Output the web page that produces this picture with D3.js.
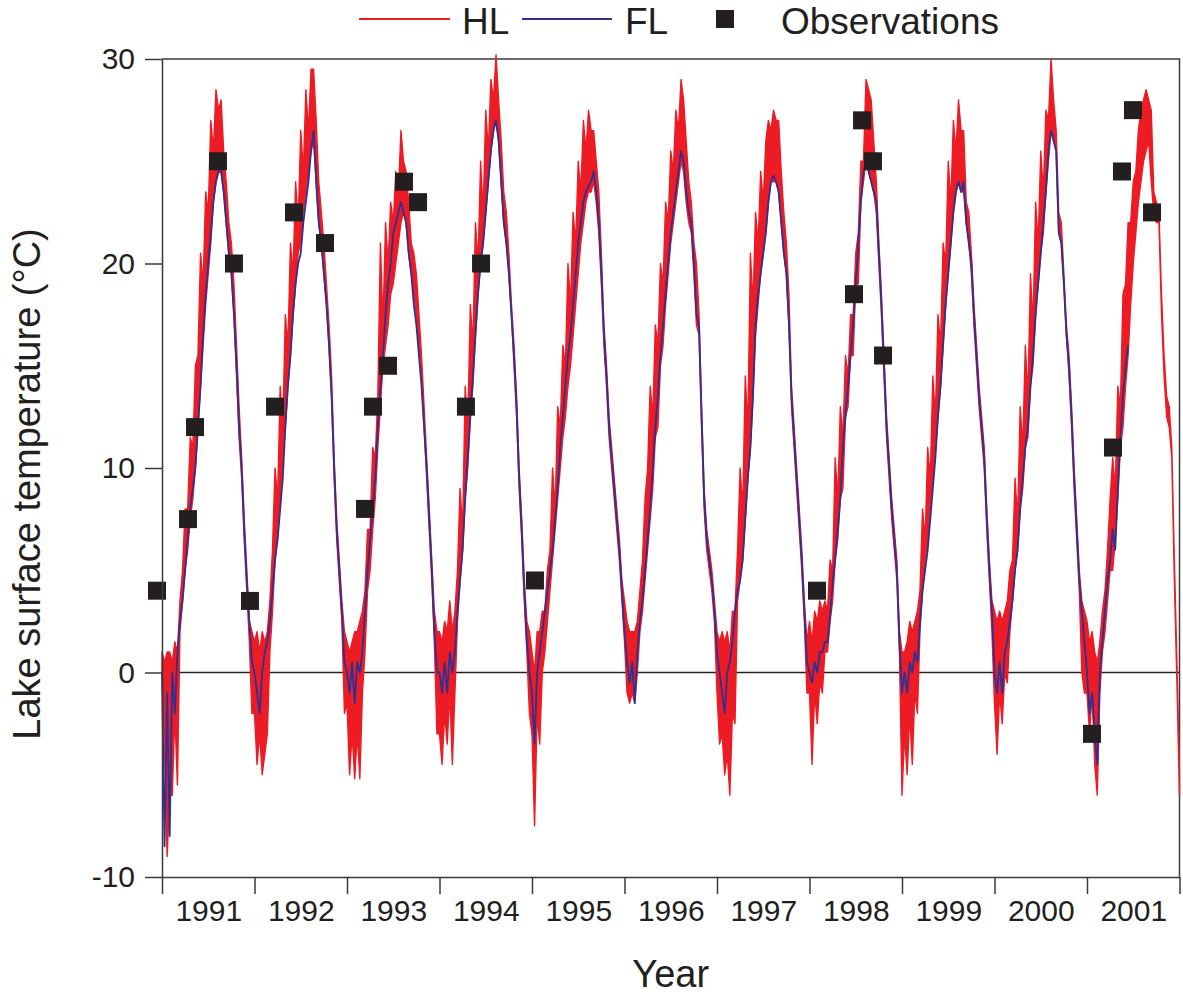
<!DOCTYPE html>
<html lang="en">
<head>
<meta charset="utf-8">
<title>Lake surface temperature</title>
<script src="https://cdnjs.cloudflare.com/ajax/libs/d3/7.8.5/d3.min.js"></script>
<style>
  body { margin: 0; background: #fff; }
  svg text { font-family: "Liberation Sans", Arial, Helvetica, sans-serif; fill: #231f20; }
</style>
</head>
<body>
<div id="chart"></div>
<script>
// --- data -------------------------------------------------------------
const samplesPerYear = 36;          // one value about every 10 days
const years = [1991, 1992, 1993, 1994, 1995, 1996, 1997, 1998, 1999, 2000, 2001];
const yTicks = [-10, 0, 10, 20, 30];

// HL model (°C): the daily series is very noisy, so it is kept as the
// upper and lower edge of its scatter, one row per year
const hlHigh = [
  [1, 0.5, 1, 1, 0.5, 1.5, 1, 3.5, 5, 8, 8, 11.5, 11, 15, 15.5, 20.5, 19, 23.5, 22.5, 27, 25.5, 28.5, 27.5, 28, 25.5, 24, 22, 21, 19, 16, 13, 10.5, 7.5, 5, 2.5, 2],
  [1.5, 2, 1, 2, 1.5, 2, 3.5, 6, 10, 8.5, 14, 12, 17.5, 16, 21, 19.5, 24, 22, 26.5, 24.5, 28.5, 26.5, 29.5, 29.5, 27, 24, 22.5, 21, 19, 17, 14.5, 10.5, 7.5, 5.5, 3.5, 2],
  [1.5, 1, 1.5, 2, 2, 2.5, 3, 4, 7, 7, 11, 10.5, 13.5, 21, 17, 22, 20, 23, 22, 24.5, 23.5, 26.5, 25, 24.5, 23, 21, 20.5, 19.5, 17.5, 15.5, 13, 10.5, 8, 5.5, 3, 2],
  [2, 1.5, 2.5, 2, 3.5, 2, 3, 5, 9, 7, 14, 12, 18, 16, 22, 20, 25, 22.5, 27.5, 25.5, 29, 28, 30.2, 28, 26, 23.5, 22.5, 20.5, 18, 16, 13.5, 10, 7.5, 4.5, 2.5, 2],
  [1, 0, 2, 2, 3, 3, 5, 6, 10, 8, 13, 12, 16, 15, 20, 18, 22.5, 21, 25, 23.5, 27, 25.5, 27.5, 26.5, 26.5, 25, 23.5, 20.5, 17, 15, 12.5, 11, 9.5, 8, 6.5, 4.5],
  [3.5, 2.5, 2, 2, 2, 2.5, 4, 5.5, 8.5, 10, 14, 12.5, 17, 16, 20, 19, 23, 22, 25.5, 24.5, 27.5, 26.5, 29, 28, 26, 24, 23, 21, 20, 17.5, 13, 9, 7, 6, 5, 3.5],
  [2, 1.5, 2, 1.5, 2, 1, 3, 3, 6, 10, 8, 14.5, 12, 20.5, 18, 22.5, 21, 24.5, 23, 26, 27, 26.5, 27.5, 27, 27, 24.5, 22.5, 21, 18.5, 14, 12, 10, 8, 6, 3.5, 1.5],
  [2.5, 1.5, 3, 2.5, 3.5, 3, 3.5, 3, 5.5, 5, 10.5, 8.5, 13, 11.5, 15.5, 14.5, 17.5, 17.5, 20.5, 21.5, 25, 25, 29, 28.5, 28, 26, 24, 21, 18.5, 15.5, 12.5, 10.5, 8.5, 7, 5.5, 2],
  [1, 1, 1.5, 2.5, 2, 2.5, 3, 4, 8, 6.5, 11, 9.5, 14.5, 12.5, 17.5, 16, 21, 20, 25, 23, 27, 25.5, 28, 26.5, 26.5, 23, 22.5, 20.5, 18, 16, 14, 12.5, 11, 8, 5.5, 3.5],
  [3, 2.5, 3, 2.5, 3, 3.5, 5, 5.5, 9.5, 7.5, 13, 11, 16, 13.5, 19.5, 17, 23, 21, 25.5, 23.5, 27.5, 27, 30, 28, 26.5, 22.5, 22, 19.5, 17, 15.5, 13, 10, 7.5, 5, 3.5, 3],
  [2.5, 1.5, 2, 1, 0.5, 1.5, 3, 4, 6, 8.5, 10.5, 9, 14, 13, 18.5, 19, 22, 22, 24, 24.5, 26.5, 27.5, 28, 28.5, 28, 27.5, 23.5, 23, 22.5, 18.5, 15.5, 13.5, 13, 11, 5.5, 0.5, -5]
];
const hlLow = [
  [0, -4, -9, -6, -6, -2, -5.5, 2, 3.5, 5, 6, 7.5, 8.5, 10, 12, 14, 16, 18, 19.5, 21, 23, 24, 24.5, 24.5, 23.5, 22, 20.5, 19.5, 17.5, 14.5, 11.5, 9.5, 6.5, 4, 1.5, -2],
  [-2, -4.5, -3, -5, -4, -3, 1, 3, 5.5, 7, 8.5, 10.5, 12, 14, 15.5, 17.5, 19, 20.5, 21, 22.5, 23.5, 24.5, 25.5, 26, 24, 22, 21, 19.5, 18, 16, 13.5, 9.5, 6.5, 4.5, 2.5, -2],
  [-1.5, -5, -3, -5.2, -3, -5.2, -1, 1, 4, 5, 7, 8.5, 11, 13, 15, 16, 17, 18.5, 19, 20, 21, 22, 22.5, 22, 20.5, 19.5, 18.5, 17.5, 16, 14.5, 12, 9.5, 7, 4.5, 1.5, -3],
  [-3, -4.5, -2, -3.5, -1, -4.5, -1, 2.5, 4.5, 6, 8.5, 10, 12.5, 14, 16.5, 18.5, 20, 21, 22.5, 24, 25.5, 26.5, 27, 26, 24, 22, 21, 19.5, 17.5, 15, 12.5, 9, 6.5, 3.5, 1, -2],
  [-3, -7.5, -2, -3.5, 0, 1, 2.5, 4, 5.5, 7, 8.5, 10, 11.5, 12.5, 14, 15, 16.5, 18, 19.5, 21, 22, 23, 23.5, 23.5, 24, 23, 21.5, 19, 16, 14, 11.5, 10, 8.5, 7, 5.5, 3.5],
  [1.5, -1, -1.5, -1, -1.5, 0, 2, 3, 4.5, 6, 7.5, 9, 11.5, 12, 15, 16, 18, 19.5, 21, 22, 23, 24, 25, 24.5, 23, 22, 21.5, 19.5, 17, 16.5, 12, 8, 6, 5, 4, 2.5],
  [-1, -3.5, -3, -5, -4, -6, -2, -2.5, 3.5, 4.5, 5.5, 7.5, 9.5, 11, 13.5, 16.5, 18, 19.5, 20.5, 21.5, 23, 24, 24, 24, 23.5, 22, 20.5, 19.5, 17, 13, 11, 9, 7, 5, 2.5, -1],
  [-1, -4.5, -1, -2.5, -0.5, -1, 1, 1, 2.5, 3.5, 5.5, 6.5, 8.5, 9, 12.5, 13, 15.5, 15.5, 19, 19, 23, 24, 25, 24.5, 24, 23.5, 22.5, 20, 17.5, 14.5, 11.5, 9.5, 7.5, 6, 4.5, 1],
  [-6, -3, -5, -2, -4.5, -1, -2, 2, 4, 5.5, 6.5, 8, 9.5, 11, 12.5, 14, 16, 18, 19.5, 21, 22.5, 23.5, 24, 23.5, 23.5, 22, 21, 19.5, 17, 15, 13, 11.5, 10, 7, 4.5, 2],
  [-1.5, -4, -1, -2.5, 0, -0.5, 2, 3.5, 5, 6, 8, 9, 11, 11.5, 14, 15, 17.5, 19, 20.5, 21.5, 23.5, 25, 26.5, 26, 25.5, 21.5, 21, 19, 16.5, 14.5, 12, 9, 6.5, 4, 0, -1],
  [-1, -3, -1, -4.5, -6, -1, 1, 2, 3.5, 5, 5, 6.5, 8.5, 11, 12, 14, 15.5, 18, 20, 21.5, 23, 24, 25, 25.5, 26, 24, 22.5, 22, 22, 17.5, 14.5, 12.5, 12, 10.5, 4.5, -0.5, -6]
];

// FL model (°C), same time steps, ends mid 2001
const flTemp = [
  [0, -8.5, -1, -8, 0, -2, 1, 2.5, 3.5, 5, 6.5, 8, 9, 10, 12, 14, 16.5, 18.5, 20, 21.5, 23, 24, 24.5, 24.5, 23.5, 22, 20.5, 19.5, 17.5, 15, 12, 10, 7, 4.5, 2.5, 0.5],
  [0, -1, -2, 0, 1, 1.5, 2.5, 4, 5.5, 6.5, 8, 9.5, 12, 14, 15.5, 17.5, 19, 20, 20.5, 22, 23, 24, 25.5, 26.5, 24, 22, 21, 19.5, 18, 16, 13.5, 10, 7, 5, 3, 0.5],
  [0, -1, 0.5, -1.5, 0.5, 0, 1, 3, 5, 6.5, 8, 9.5, 12, 14, 15.5, 17.5, 19, 20, 21.5, 22, 22.5, 23, 22.5, 22, 20.5, 19.5, 18, 17, 15.5, 14, 12, 10, 7.5, 5, 2, 0],
  [0, -1, 0.5, -1, 1, 0, 1, 3, 4.5, 6, 8.5, 10.5, 12.5, 14.5, 16.5, 18.5, 20, 21, 22.5, 24, 25.5, 26.5, 27, 26, 24, 22, 21, 19.5, 17.5, 15.5, 13, 9.5, 7, 4, 1.5, 0],
  [-1, -3.5, 0, 1, 2, 3, 4, 5, 6, 7.5, 9, 11, 12.5, 14, 15.5, 16.5, 18, 19.5, 21, 22, 23, 23.5, 23.8, 24, 24.5, 23.5, 22, 19.5, 16.5, 14.5, 12, 10.5, 9, 7.5, 6, 4],
  [2, 0.5, -0.5, 0.5, -1.5, 1, 2.5, 3.5, 5, 6.5, 8, 10, 12, 13.5, 15.5, 17, 18.5, 20, 21.5, 22.5, 23.5, 24.5, 25.5, 25, 23.5, 22.5, 22, 20, 17.5, 17, 12.5, 8.5, 6.5, 5.5, 4.5, 3],
  [1, 0, -1, -2, 0, 0.5, 1.5, 3, 4, 4.5, 5.5, 7.5, 9.5, 11, 13.5, 17, 18.5, 19.5, 20.5, 21.5, 23, 24, 24.3, 24, 23.5, 22, 20.5, 19.5, 17, 13.5, 11.5, 9.5, 7.5, 5.5, 3, 0.5],
  [0, -0.5, 0.5, 0, 1, 1, 1.5, 1.5, 2.7, 4.4, 5.5, 7, 8.5, 11, 12.5, 14, 15.5, 17, 19, 21, 23, 24.5, 25, 24.5, 24, 23.5, 23, 20.5, 18, 15, 12, 10, 8, 6.5, 5, 1.5],
  [-1, 0, -1, 0.5, 0, 1, 0.5, 2.5, 4, 5, 6, 7.5, 9, 10.5, 12.5, 14, 16, 18, 19.5, 21, 22.5, 23.5, 24, 23.5, 24, 22, 21, 20, 17.5, 15.5, 13.5, 12, 10.5, 7.5, 5, 3],
  [0, -1, 0.5, -1, 1, 1.5, 2.5, 3.5, 5, 6, 8, 9.5, 11, 12, 14, 15.5, 17.5, 19, 20.5, 22, 23.5, 25.5, 26.5, 26, 25.5, 21.5, 21, 19, 16.5, 15, 12.5, 9.5, 7, 4.5, 3, 1.5],
  [0, -2, -1, -3, -4.5, 0, 1.5, 3, 4.5, 5.5, 7, 6, 9, 11.5, 13.5, 15, 16]
];

// field observations (decimal year, °C)
const obsTime = [1990.946, 1991.281, 1991.357, 1991.605, 1991.778, 1991.951, 1992.222, 1992.427, 1992.762,
  1993.195, 1993.281, 1993.443, 1993.616, 1993.768, 1994.286, 1994.449, 1995.032,
  1998.081, 1998.481, 1998.568, 1998.686, 1998.795, 2001.054, 2001.281, 2001.378, 2001.497, 2001.703];
const obsTemp = [4, 7.5, 12, 25, 20, 3.5, 13, 22.5, 21,
  8, 13, 15, 24, 23, 13, 20, 4.5,
  4, 18.5, 27, 25, 15.5, -3, 11, 24.5, 27.5, 22.5];

// --- drawing ----------------------------------------------------------
const width = 1183;
const height = 996;
const plot = { left: 162, right: 1179.5, top: 59, bottom: 877 };
const red = "#ed1c24";
const blue = "#2e3192";
const axisColor = "#3a3a3a";
const markColor = "#231f20";

const x = d3.scaleLinear().domain([years[0], years[years.length - 1] + 1]).range([plot.left, plot.right]);
const y = d3.scaleLinear().domain([-10, 30]).range([plot.bottom, plot.top]);

const svg = d3.select("#chart").append("svg")
  .attr("width", width)
  .attr("height", height);

// top and right frame
svg.append("path")
  .attr("d", `M${x.range()[0]},${y.range()[1]}H${x.range()[1]}V${y.range()[0]}`)
  .attr("fill", "none")
  .attr("stroke", axisColor)
  .attr("stroke-width", 1.5);

// zero line
svg.append("line")
  .attr("x1", x.range()[0]).attr("x2", x.range()[1])
  .attr("y1", y(0)).attr("y2", y(0))
  .attr("stroke", "#222")
  .attr("stroke-width", 1.5);

// rows per year -> time stamped points
const hlPoints = hlHigh.flatMap((row, k) =>
  row.map((v, j) => ({ t: years[k] + j / samplesPerYear, hi: v, lo: hlLow[k][j] })));
const flPoints = flTemp.flatMap((row, k) =>
  row.map((v, j) => ({ t: years[k] + j / samplesPerYear, v })));

svg.append("path")
  .datum(hlPoints)
  .attr("d", d3.area().x(d => x(d.t)).y0(d => y(d.lo)).y1(d => y(d.hi)))
  .attr("fill", red)
  .attr("stroke", red)
  .attr("stroke-width", 1.4)
  .attr("stroke-linejoin", "round");

svg.append("path")
  .datum(flPoints)
  .attr("d", d3.line().x(d => x(d.t)).y(d => y(d.v)))
  .attr("fill", "none")
  .attr("stroke", blue)
  .attr("stroke-width", 1.8)
  .attr("stroke-linejoin", "round");

// observations
const box = 18;
svg.append("g").selectAll("rect")
  .data(obsTime.map((t, i) => [t, obsTemp[i]]))
  .join("rect")
  .attr("x", d => x(d[0]) - box / 2)
  .attr("y", d => y(d[1]) - box / 2)
  .attr("width", box)
  .attr("height", box)
  .attr("fill", markColor);

// axes
const yAxis = svg.append("g")
  .attr("transform", `translate(${plot.left},0)`)
  .call(d3.axisLeft(y).tickValues(yTicks).tickFormat(d => String(d))
    .tickSize(17).tickSizeOuter(0).tickPadding(10));

const xAxis = svg.append("g")
  .attr("transform", `translate(0,${plot.bottom})`)
  .call(d3.axisBottom(x).tickValues(years.concat(years[years.length - 1] + 1))
    .tickFormat("").tickSize(17).tickSizeOuter(0));

const xLabels = svg.append("g")
  .attr("transform", `translate(0,${plot.bottom})`)
  .call(d3.axisBottom(x).tickValues(years.map(v => v + 0.5))
    .tickFormat(d => String(Math.floor(d))).tickSize(0).tickPadding(23));
xLabels.select(".domain").remove();

[yAxis, xAxis, xLabels].forEach(g => {
  g.attr("font-family", null).attr("font-size", null);
  g.selectAll("path, line").attr("stroke", axisColor).attr("stroke-width", 1.5);
  g.selectAll("text").attr("fill", "#231f20").style("font-size", "30px");
});

// axis titles
svg.append("text")
  .attr("x", (plot.left + plot.right) / 2)
  .attr("y", 987)
  .attr("text-anchor", "middle")
  .style("font-size", "38px")
  .text("Year");

svg.append("text")
  .attr("transform", "translate(40,484) rotate(-90)")
  .attr("text-anchor", "middle")
  .style("font-size", "38px")
  .text("Lake surface temperature (°C)");

// legend
const legend = svg.append("g");
legend.append("line").attr("x1", 359).attr("x2", 450).attr("y1", 19).attr("y2", 19)
  .attr("stroke", red).attr("stroke-width", 2);
legend.append("text").attr("x", 462).attr("y", 34).style("font-size", "37px").text("HL");
legend.append("line").attr("x1", 522).attr("x2", 612).attr("y1", 19).attr("y2", 19)
  .attr("stroke", blue).attr("stroke-width", 2);
legend.append("text").attr("x", 625).attr("y", 34).style("font-size", "37px").text("FL");
legend.append("rect").attr("x", 716).attr("y", 10).attr("width", box).attr("height", box)
  .attr("fill", markColor);
legend.append("text").attr("x", 781).attr("y", 34).style("font-size", "37px").text("Observations");
</script>
</body>
</html>
